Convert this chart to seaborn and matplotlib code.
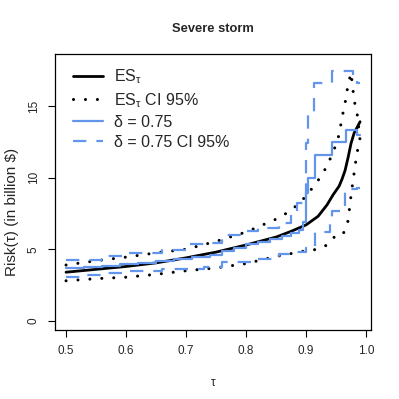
import numpy as np
import matplotlib
matplotlib.use("Agg")
import matplotlib.pyplot as plt
import seaborn as sns

# ---- data ----
tau_es = [0.50, 0.55, 0.60, 0.65, 0.70, 0.75, 0.80, 0.85, 0.875, 0.90, 0.92, 0.935,
          0.945, 0.95, 0.955, 0.96, 0.965, 0.97, 0.975, 0.98, 0.985, 0.99]
es = [3.4, 3.6, 3.8, 4.05, 4.4, 4.8, 5.3, 5.85, 6.25, 6.7, 7.3, 8.1,
      8.8, 9.1, 9.4, 9.9, 10.5, 11.4, 12.4, 13.1, 13.5, 13.9]
es_hi = [3.9, 4.2, 4.45, 4.75, 5.0, 5.55, 6.2, 7.1, 7.7, 8.7, 9.8, 10.8,
         11.8, 12.3, 13.0, 14.2, 15.2, 16.5, 17.3, 15.4, 14.5, 12.6]
es_lo = [2.8, 2.95, 3.05, 3.25, 3.5, 3.7, 4.0, 4.5, 4.7, 4.9, 5.0, 5.3,
         5.8, 5.9, 5.85, 6.0, 6.3, 7.0, 8.8, 10.3, 11.8, 12.4]

tau_d = [0.50, 0.53, 0.56, 0.59, 0.62, 0.65, 0.68, 0.71, 0.74, 0.76, 0.78, 0.80,
         0.82, 0.84, 0.86, 0.875, 0.888, 0.895, 0.900, 0.903, 0.915, 0.943, 0.967, 0.985, 0.99]
d75 = [3.7, 3.75, 3.85, 3.95, 4.05, 4.15, 4.3, 4.45, 4.6, 4.85, 5.1, 5.35,
       5.5, 5.75, 5.9, 6.1, 6.35, 6.9, 8.9, 10.0, 11.6, 12.5, 13.3, 13.0, 13.0]

tau_dhi = [0.50, 0.57, 0.60, 0.66, 0.70, 0.73, 0.76, 0.79, 0.82, 0.855, 0.875, 0.885,
           0.90, 0.903, 0.913, 0.943, 0.978, 0.985, 0.99]
d75_hi = [4.25, 4.55, 4.75, 4.95, 5.35, 5.45, 6.0, 6.25, 6.5, 6.85, 7.6, 8.2,
          12.4, 14.6, 16.6, 17.4, 17.0, 16.6, 16.6]

tau_dlo = [0.50, 0.535, 0.57, 0.60, 0.63, 0.66, 0.70, 0.73, 0.76, 0.82, 0.855, 0.875,
           0.90, 0.915, 0.94, 0.943, 0.965, 0.985, 0.99]
d75_lo = [3.1, 3.2, 3.35, 3.45, 3.5, 3.6, 3.65, 3.75, 4.1, 4.3, 4.7, 4.8,
          5.1, 6.2, 7.0, 7.7, 9.2, 9.3, 9.3]

x_ticks = [0.5, 0.6, 0.7, 0.8, 0.9, 1.0]
x_tick_labels = ["0.5", "0.6", "0.7", "0.8", "0.9", "1.0"]
y_ticks = [0, 5, 10, 15]
y_tick_labels = ["0", "5", "10", "15"]

labels = ["ES$_\\tau$", "ES$_\\tau$ CI 95%", "δ = 0.75", "δ = 0.75 CI 95%"]

# ---- style ----
sns.set_style("white")
plt.rcParams["font.family"] = ["Liberation Sans", "DejaVu Sans"]
plt.rcParams["mathtext.fontset"] = "custom"
plt.rcParams["mathtext.rm"] = "Liberation Sans"
plt.rcParams["mathtext.it"] = "Liberation Sans"

blue = "#6495ED"
fig = plt.figure(figsize=(3.99, 3.99), dpi=100)
ax = fig.add_axes([0.138, 0.173, 0.792, 0.692])

dot = (0, (0.01, 3.9))
dash = (0, (6, 4.5))

sns.lineplot(x=tau_es, y=es, ax=ax, color="black", lw=2.0, label=labels[0])
sns.lineplot(x=tau_es, y=es_hi, ax=ax, color="black", lw=2.2, linestyle=dot,
             dash_capstyle="round", label=labels[1])
sns.lineplot(x=tau_es, y=es_lo, ax=ax, color="black", lw=2.2, linestyle=dot,
             dash_capstyle="round")
sns.lineplot(x=tau_d, y=d75, ax=ax, color=blue, lw=1.6, drawstyle="steps-post",
             label=labels[2])
sns.lineplot(x=tau_dhi, y=d75_hi, ax=ax, color=blue, lw=1.6, linestyle=dash,
             drawstyle="steps-post", label=labels[3])
sns.lineplot(x=tau_dlo, y=d75_lo, ax=ax, color=blue, lw=1.6, linestyle=dash,
             drawstyle="steps-post")

ax.set_xlim(0.4817, 1.0083)
ax.set_ylim(-0.63, 18.63)
ax.set_xticks(x_ticks)
ax.set_xticklabels(x_tick_labels, fontsize=8.5)
ax.set_yticks(y_ticks)
ax.set_yticklabels(y_tick_labels, fontsize=8.5, rotation=90, va="center")
ax.tick_params(axis="both", direction="out", length=5, width=0.8, color="black",
               bottom=True, left=True, pad=6)
for s in ax.spines.values():
    s.set_color("black")
    s.set_linewidth(0.9)

ax.set_xlabel("τ", fontsize=8.5, labelpad=14)
ax.set_ylabel("Risk(τ) (in billion $)", fontsize=11, va="center")
ax.yaxis.set_label_coords(-0.136, 0.428)
ax.set_title("Severe storm", fontsize=9.3, fontweight="bold", pad=16)

ax.legend(loc="upper left", bbox_to_anchor=(0.035, 0.975), frameon=False,
          fontsize=11.5, handlelength=1.9, handletextpad=0.69, labelspacing=0.32,
          borderaxespad=0)

fig.savefig("out.png", dpi=100)
